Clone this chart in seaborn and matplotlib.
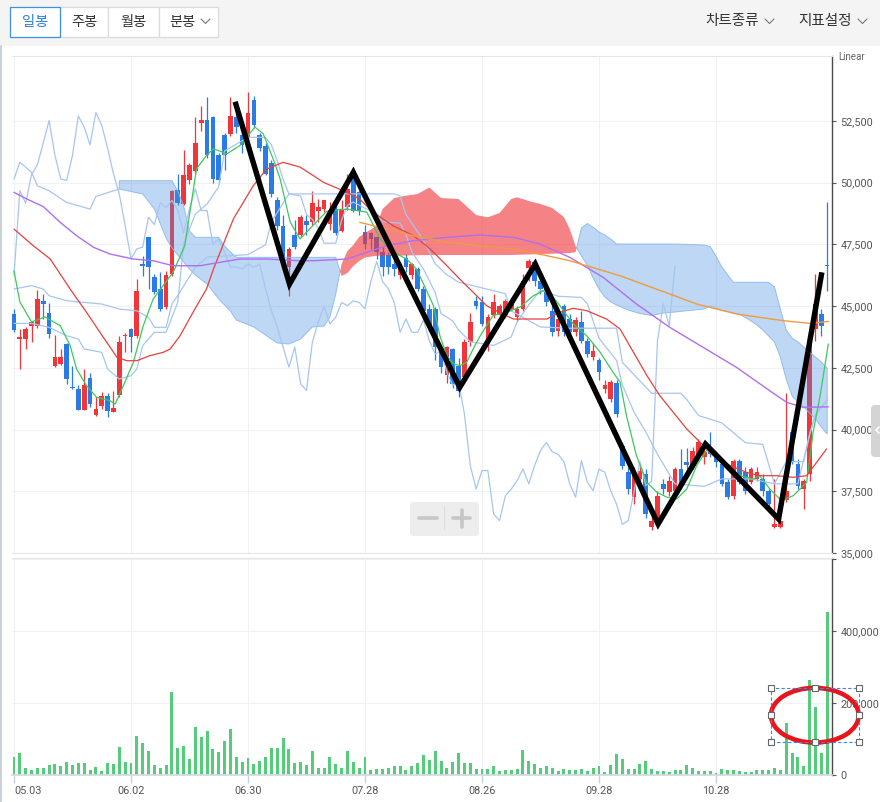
import numpy as np
import pandas as pd
import seaborn as sns
import matplotlib.pyplot as plt
from matplotlib.patches import Ellipse, Rectangle, FancyBboxPatch
from matplotlib.lines import Line2D
from matplotlib.ticker import FuncFormatter

sns.set_theme(style="white")
plt.rcParams['font.family'] = ['Roboto', 'Noto Sans CJK KR', 'DejaVu Sans']

# ---- daily candles (index 0 = 05.03) ----
opens = [44700, 43660, 43670, 44190, 44190, 45210, 44720, 42590, 42660, 43470,
         41720, 41650, 40810, 42090, 40590, 40970, 41370, 40730, 41400, 43770,
         44080, 43800, 46700, 47790, 46170, 45700, 44960, 46300, 49700, 49140,
         50090, 50490, 52410, 52520, 52650, 51100, 51940, 51960, 52650, 51940,
         51800, 53330, 51940, 51480, 50800, 49310, 48260, 46580, 47860, 47860,
         48430, 48400, 48870, 48940, 48330, 48940, 48060, 49000, 50430, 49610,
         47990, 47970, 47790, 47180, 47070, 46700, 46240, 46940, 46240, 46510,
         45700, 44890, 44890, 43340, 42190, 43270, 42590, 42120, 43540, 45210,
         45150, 43470, 44620, 44620, 44620, 44890, 44550, 44890, 46540, 46780,
         46000, 45780, 44810, 43990, 45020, 44480, 43940, 44340, 43600, 42930,
         42830, 41640, 41240, 41890, 39350, 38270, 37260, 38000, 38200, 36040,
         36240, 37800, 37460, 37520, 38400, 38700, 38540, 38940, 38900, 39300,
         38900, 38610, 37870, 37320, 38740, 38270, 37870, 38000, 38000, 37520,
         36040, 36040, 37150, 39900, 38610, 37600, 38200, 44070, 44700, 46680]
highs = [44900, 44080, 44150, 44400, 45670, 45490, 45130, 43840, 43270, 43500,
         42590, 41800, 42460, 42300, 41320, 41510, 41500, 41570, 43800, 43900,
         44100, 46100, 47040, 47800, 46300, 46370, 46440, 49700, 50350, 51340,
         50800, 52650, 53120, 53470, 52700, 51200, 52000, 53470, 53100, 52100,
         53670, 53500, 52000, 51600, 50900, 49400, 48700, 47400, 48500, 48700,
         48700, 49680, 49320, 49300, 49200, 49300, 49300, 50360, 50630, 49700,
         48300, 48000, 47800, 47400, 47200, 47000, 46800, 47100, 46750, 46600,
         45800, 45100, 44950, 43400, 43400, 43300, 42900, 43670, 44740, 45400,
         45400, 44700, 45500, 45100, 45300, 45300, 45000, 46300, 46900, 46900,
         46300, 45900, 45100, 44600, 45100, 44700, 44550, 44800, 43700, 43500,
         42900, 42000, 42000, 42000, 39500, 38500, 38500, 38500, 38400, 36500,
         37500, 38000, 38100, 38500, 39200, 39250, 39300, 39600, 39500, 39900,
         39100, 38700, 38000, 38800, 38800, 38500, 38500, 38500, 38200, 37600,
         38000, 36400, 41500, 40100, 38800, 38000, 43700, 46300, 44900, 49200]
lows = [43950, 42460, 43260, 43560, 44100, 44480, 43710, 42550, 42600, 41850,
        41650, 40800, 40800, 40900, 40550, 40830, 40500, 40700, 41300, 43140,
        43140, 43700, 46200, 45700, 45490, 44800, 44900, 46200, 49100, 49100,
        49950, 50400, 52110, 51000, 50000, 50000, 50500, 51900, 52000, 51200,
        51700, 52200, 51300, 50300, 49400, 48100, 46600, 45420, 47300, 47800,
        47860, 48300, 48400, 48800, 48100, 47900, 48000, 48900, 48800, 48700,
        47300, 47300, 46900, 46200, 46300, 46200, 46100, 46400, 46100, 45600,
        44700, 44000, 42800, 42300, 41900, 41700, 41310, 42000, 43400, 44900,
        44200, 43200, 44500, 44500, 44500, 44800, 44400, 44800, 46000, 45800,
        45500, 45000, 43800, 43800, 43800, 43800, 43800, 43500, 42950, 42800,
        42000, 41500, 41100, 40500, 38400, 37400, 37000, 37800, 36400, 35950,
        36100, 37400, 37300, 37400, 37600, 38400, 38400, 38800, 38600, 38900,
        38500, 37700, 37200, 37200, 37800, 37400, 37800, 37900, 37300, 36900,
        36000, 36000, 37050, 38600, 37600, 36780, 37900, 43600, 43800, 45620]
closes = [44050, 43760, 44080, 44350, 45290, 45090, 43870, 42950, 42950, 42050,
          41680, 40810, 41800, 41040, 40830, 41370, 40770, 40880, 43550, 43840,
          43740, 45620, 46640, 46580, 45560, 44890, 46240, 49680, 49170, 50330,
          50720, 51600, 52520, 51100, 50150, 50090, 51100, 52700, 52250, 51530,
          52840, 52320, 51400, 50360, 49540, 48260, 46910, 47320, 47390, 48600,
          48300, 49180, 49000, 49280, 48870, 47970, 48940, 49750, 48870, 48870,
          47510, 47720, 47180, 46580, 46580, 46510, 46700, 46580, 46700, 45700,
          44820, 44150, 43340, 42530, 43340, 41850, 41580, 43540, 44350, 45000,
          44280, 44550, 45150, 45020, 45210, 45150, 44890, 46000, 46810, 46000,
          45700, 45150, 43940, 44480, 43940, 43940, 44440, 43600, 43060, 43190,
          42320, 41800, 41910, 40630, 38540, 37590, 38340, 38340, 36580, 36310,
          37320, 37590, 37930, 38400, 37800, 38550, 39150, 39480, 39100, 39000,
          38700, 37800, 37260, 38740, 37870, 37520, 38400, 38270, 37520, 36980,
          36160, 36310, 37500, 38700, 37730, 37900, 43600, 45090, 44200, 46640]
volume_k = [51, 61, 20, 14, 20, 20, 27, 30, 24, 36, 27, 33, 33, 14, 23, 11, 33, 30, 79, 36,
            33, 109, 88, 67, 27, 20, 27, 231, 75, 81, 44, 133, 106, 122, 72, 64, 94, 128, 51, 36,
            47, 30, 39, 51, 75, 75, 103, 72, 33, 36, 27, 67, 20, 20, 51, 30, 20, 67, 36, 20,
            51, 14, 18, 18, 20, 24, 24, 14, 24, 33, 55, 43, 67, 39, 20, 36, 61, 33, 33, 18,
            18, 18, 24, 11, 14, 14, 18, 69, 39, 30, 20, 24, 20, 11, 18, 14, 14, 18, 11, 20,
            24, 8, 27, 57, 44, 18, 18, 30, 39, 18, 11, 11, 8, 14, 14, 27, 20, 11, 11, 11,
            6, 18, 14, 14, 11, 8, 8, 14, 14, 14, 20, 14, 145, 61, 51, 24, 265, 189, 61, 453]

date_ticks = [0, 20, 40, 60, 80, 100, 120]
date_labels = ['05.03', '06.02', '06.30', '07.28', '08.26', '09.28', '10.28']

# ---- moving averages (bar index, price) ----
ma5_x = [0, 1, 3, 5.3, 7.9, 9.6, 10.7, 12.4, 14.1, 16.4, 17.3, 18.7, 20.4, 22.1, 23.8, 25.5, 27.2,
         29.2, 31.2, 32.9, 34.1, 36.4, 38.6, 41.2, 42.6, 44.3, 45.5, 47.2, 48.9, 51.7, 53.5, 56.9,
         60.3, 62.6, 64.8, 67.1, 68.8, 70, 71.7, 72.8, 74, 75.1, 76.2, 77.4, 78.5, 79.7, 81.9, 84.2,
         86.5, 88.8, 91.1, 93.3, 95.6, 97.9, 100.2, 102.4, 103.6, 104.7, 106.4, 108.2, 109.9, 111.6,
         113.3, 115, 116.7, 118.4, 120.1, 121.8, 124.1, 126.4, 127.5, 129.2, 131.2, 133.2, 135.5,
         136.6, 137.8, 139.2]
ma5_y = [46430, 45170, 44360, 44560, 44210, 43400, 42450, 41780, 41310, 41170, 41030, 41780, 42720,
         44210, 45290, 45830, 46370, 47450, 50560, 51100, 51370, 51170, 51500, 52250, 51980, 50960,
         50150, 48410, 47720, 48410, 48850, 48930, 48810, 47720, 47190, 46910, 46500, 45900, 45020,
         43800, 42990, 42660, 42590, 42730, 43270, 43800, 44620, 44750, 44960, 45420, 45690, 45020,
         44280, 43800, 43130, 42320, 41920, 40560, 38940, 37860, 37460, 37260, 37190, 37590, 38540,
         39150, 39010, 38540, 38130, 38000, 38130, 37590, 37120, 37320, 37860, 39890, 41370, 43470]
ma20_x = [0, 3.3, 6.2, 9.6, 12.4, 14.7, 17.6, 19.3, 21, 23.2, 25.5, 26.7, 28.4, 30.6, 32.9, 34.1,
          37.5, 40.9, 43.2, 46, 48.9, 51.2, 52.9, 56.9, 59.1, 61.4, 64.8, 68.3, 70.5, 72.3, 74, 76.2,
          78.5, 80.8, 83.1, 85.4, 88.8, 91.1, 93.3, 95.6, 97.9, 101.3, 103.6, 105.9, 108.2, 110.4,
          112.7, 115, 117.3, 119.5, 121.8, 125.2, 127.5, 130.4, 133.2, 135.5, 137.2, 138.9]
ma20_y = [48120, 47446, 46907, 45692, 44748, 43938, 42926, 42788, 42788, 42991, 43128, 43262, 43801,
          44748, 45692, 46502, 48527, 49876, 50552, 50823, 50633, 50281, 50013, 49608, 49337, 48798,
          48256, 47851, 47446, 47041, 46636, 46097, 45558, 45016, 44720, 44477, 44477, 44477, 44748,
          44910, 44813, 44477, 44072, 43128, 42181, 41371, 40699, 40022, 39483, 38941, 38605, 38268,
          38131, 38131, 38066, 38131, 38673, 39212]
ma60_x = [0, 2.2, 5, 7.9, 10.7, 13.6, 16.4, 20.4, 23.8, 27.2, 31.8, 35.2, 38.6, 43.2, 48.9, 51.2,
          56.9, 60.3, 63.7, 68.3, 74, 79.7, 85.4, 89.9, 95, 100.7, 106.4, 112.1, 117.8, 123.5, 129.2,
          132.1, 134.9, 139.2]
ma60_y = [49608, 49337, 49032, 48393, 47851, 47381, 47110, 46907, 46838, 46636, 46636, 46773, 46907,
          46907, 46838, 46838, 46907, 47178, 47446, 47648, 47786, 47879, 47786, 47514, 46976, 46166,
          45085, 44140, 43330, 42520, 41570, 41100, 40900, 40920]
ma120_x = [59.1, 62.6, 68.3, 74, 79.7, 85.4, 91.1, 95, 103.6, 112.1, 116.7, 123.5, 131.5, 136.1, 139.2]
ma120_y = [48393, 48191, 47851, 47583, 47446, 47312, 47041, 46840, 46230, 45490, 45085, 44680,
           44410, 44300, 44380]

# ---- ichimoku lines ----
tenkan_x = [0, 3, 6, 9, 11, 12, 15, 16, 18, 20, 21, 22, 24, 26, 28, 29, 31, 33, 35, 36, 40, 43, 44,
            45, 46, 47, 49, 50, 51, 52, 53, 55, 56, 57, 58, 60, 62, 63, 66, 67, 68, 70, 72, 73, 75,
            76, 78, 82, 85, 86, 88, 90, 93, 97, 98, 100, 103, 104, 106, 108, 110, 113, 118, 121, 126,
            130, 132, 135, 136, 137, 139]
tenkan_y = [44300, 44300, 44141, 43801, 43667, 43262, 43128, 42452, 42047, 42181, 42452, 43396,
            43938, 43938, 45153, 47520, 48725, 49135, 49835, 51285, 51835, 51835, 51535, 50885,
            50135, 49545, 49460, 48710, 48510, 48160, 47550, 47550, 48490, 49080, 49215, 48965,
            48765, 48415, 48365, 47900, 47200, 46500, 45550, 44700, 44400, 44030, 43555, 43405,
            43750, 44350, 45050, 45650, 45400, 45350, 45100, 43700, 42800, 41800, 40700, 39900,
            39000, 37800, 37700, 38000, 38000, 37800, 38700, 38700, 39800, 40600, 41200]
kijun_x = [0, 3, 5, 6, 9, 12, 15, 18, 21, 23, 24, 26, 27, 28, 31, 33, 40, 43, 44, 47, 65, 66, 67, 70,
           72, 74, 76, 84, 85, 90, 95, 103, 104, 109, 114, 115, 117, 121, 125, 128, 130, 134, 136,
           137, 139]
kijun_y = [45690, 45830, 45690, 45420, 45220, 45150, 45085, 44880, 44810, 44540, 44140, 44140, 45100,
           45425, 46575, 46985, 47085, 47485, 48405, 49545, 49545, 49460, 48710, 47665, 46715, 46265,
           45970, 45505, 44805, 44155, 44105, 44105, 42720, 41470, 41470, 41220, 40570, 40270, 39470,
           39400, 37800, 37800, 39800, 40600, 41200]
span_a_pre_x = [0, 1, 3, 4, 6, 9, 13, 14, 17, 18]
span_a_pre_y = [50150, 50825, 50420, 49875, 49670, 49200, 48930, 49440, 49670, 49742]
cloud_x = [18, 22, 24, 26, 27, 28, 29, 30, 31, 33, 35, 36, 37, 38, 41, 45, 47, 49, 51, 53,
           54, 55, 56, 57, 58, 59, 60, 62, 63, 65, 67, 69, 71, 73, 76, 79, 81, 83, 85, 86,
           88, 90, 92, 94, 95, 96, 97, 98, 99, 100, 101, 102, 103, 105, 107, 109, 111, 113, 115, 118,
           119, 120, 121, 122, 123, 124, 126, 127, 128, 129, 130, 131, 132, 133, 134, 135, 136, 137, 138, 139]
span_a = [49742, 49540, 48932, 47758, 47352, 47069, 46786, 46502, 46259, 45895,
          45287, 45044, 44801, 44437, 44153, 43505, 43465, 43667, 44153, 44194,
          44558, 45490, 46705, 47231, 47474, 47798, 47960, 48244, 48932, 49378,
          49471, 49540, 49803, 49378, 49337, 48689, 48596, 48770, 49337, 49406,
          49256, 49135, 48973, 48608, 48122, 47433, 47028, 46664, 46137, 45692,
          45368, 45166, 45044, 44842, 44700, 44619, 44720, 44761, 44813, 44882,
          45004, 44920, 44842, 44780, 44720, 44680, 44396, 44234, 44031, 43789,
          43545, 42938, 42047, 41359, 41115, 40913, 40670, 40427, 40103, 39820]
span_b = [50078, 50078, 50078, 50078, 50078, 49661, 49053, 48041, 47786, 47786,
          47786, 47433, 47190, 46976, 46976, 46976, 46976, 46976, 46976, 46976,
          46976, 46976, 46218, 46340, 46623, 46826, 46968, 47041, 47041, 47041,
          47050, 47060, 47069, 47069, 47069, 47069, 47069, 47069, 47069, 47080,
          47090, 47110, 47120, 47140, 47150, 47190, 48162, 48345, 48191, 48000,
          47879, 47717, 47514, 47514, 47514, 47514, 47514, 47514, 47500, 47474,
          47413, 47028, 46583, 46259, 45963, 45963, 45963, 45963, 45963, 45963,
          45773, 44882, 44031, 43707, 43545, 43343, 43140, 42938, 42735, 42492]

# hand-drawn zigzag
zz_x = [37.8, 47.1, 58.0, 76.2, 89.1, 110.1, 118.2, 130.7, 138.1]
zz_y = [53278, 45894, 50418, 41711, 46704, 36174, 39414, 36377, 46368]

RED = '#f0353b'
BLUE = '#2a7be3'
LIGHT = '#a6c6f0'
GRID = '#f0f1f4'

df = pd.DataFrame({'o': opens, 'h': highs, 'l': lows, 'c': closes})
df['i'] = np.arange(len(df))
df['v'] = np.array(volume_k) * 1000
colors = np.where(df['c'] >= df['o'], RED, BLUE)

fig = plt.figure(figsize=(8.8, 8.02), dpi=100)


def fx(px):
    return px / 880


def fy(py):
    return 1 - py / 802


ax = fig.add_axes([fx(12), fy(553), fx(832) - fx(12), fy(56) - fy(553)])
axv = fig.add_axes([fx(12), fy(775), fx(832) - fx(12), fy(558) - fy(775)], sharex=ax)

# candles
ax.vlines(df['i'], df['l'], df['h'], colors=colors, lw=0.9, zorder=2)
body = np.maximum((df['c'] - df['o']).abs(), 45)
ax.bar(df['i'], body, bottom=np.minimum(df['o'], df['c']), width=0.8, color=colors, lw=0, zorder=2.1)

# cloud
cx, sa, sb = np.array(cloud_x), np.array(span_a), np.array(span_b)
ax.fill_between(cx, sa, sb, where=sb >= sa, interpolate=True,
                facecolor=(0.29, 0.565, 0.886, 0.36), edgecolor=(0.55, 0.72, 0.93, 0.9), lw=0.7, zorder=3)
ax.fill_between(cx, sa, sb, where=sa > sb, interpolate=True,
                facecolor=(0.94, 0.21, 0.23, 0.62), edgecolor='none', lw=0, zorder=3)
ax.plot(span_a_pre_x, span_a_pre_y, color=LIGHT, lw=0.9, zorder=3.5)

# ichimoku lines + lagging span
ax.plot(tenkan_x, tenkan_y, color=LIGHT, lw=0.9, zorder=3.5)
ax.plot(kijun_x, kijun_y, color=LIGHT, lw=0.9, zorder=3.5)
ax.plot(df['i'][26:] - 26, df['c'][26:], color=LIGHT, lw=0.9, zorder=3.5)

# moving averages
sns.lineplot(x=ma5_x, y=ma5_y, ax=ax, color='#3dc95c', linewidth=0.9, zorder=4)
sns.lineplot(x=ma20_x, y=ma20_y, ax=ax, color='#e8403c', linewidth=0.9, zorder=4)
sns.lineplot(x=ma60_x, y=ma60_y, ax=ax, color='#b06ef0', linewidth=1.0, zorder=4)
sns.lineplot(x=ma120_x, y=ma120_y, ax=ax, color='#f39a3c', linewidth=1.0, zorder=4)

ax.plot(zz_x, zz_y, color='black', lw=3.9, solid_joinstyle='miter', solid_capstyle='butt', zorder=6)

# volume
axv.bar(df['i'], df['v'], width=0.5, color='#55cc7a', lw=0, zorder=2)

# axes styling
ax.set_xlim(-0.34, 139.83)
ax.set_ylim(35000, 55130)
axv.set_ylim(0, 602800)
fmt = FuncFormatter(lambda v, p: f'{int(v):,}')
for a in (ax, axv):
    a.set_xlabel('')
    a.set_ylabel('')
    a.yaxis.tick_right()
    a.yaxis.set_major_formatter(fmt)
    a.set_xticks(date_ticks)
    a.grid(True, color=GRID, lw=0.8)
    a.set_axisbelow(True)
    a.spines['left'].set_visible(False)
    a.spines['right'].set_color('#4a4a4a')
    a.spines['right'].set_linewidth(1.0)
    a.spines['top'].set_color('#e6e6e6')
    a.spines['top'].set_linewidth(0.8)
    a.tick_params(axis='y', direction='out', length=3, width=0.8, color='#555555',
                  labelsize=7.8, labelcolor='#555555', pad=3, right=True, left=False)
ax.set_yticks(range(35000, 52501, 2500))
axv.set_yticks([0, 200000, 400000, 600000])
axv.set_yticklabels(['0', '200,000', '400,000', ''])
ax.spines['bottom'].set_color('#e6e6e6')
ax.spines['bottom'].set_linewidth(0.8)
axv.spines['bottom'].set_color('#d3d9e3')
ax.tick_params(axis='x', labelbottom=False, length=0)
axv.set_xticklabels(date_labels)
axv.tick_params(axis='x', direction='out', length=6, width=1, color='#c9d1de',
                labelsize=7.8, labelcolor='#555555', pad=2, bottom=True)
axv.get_xticklabels()[0].set_ha('left')

# annotation ellipse and selection box on volume
axv.add_patch(Ellipse((136.9, 166000), 15.0, 152000, fill=False, edgecolor='#e8151d',
                      lw=3.3, clip_on=False, zorder=10))
axv.add_patch(Rectangle((129.35, 90800), 15.04, 150800, fill=False, edgecolor='#2e8ef0',
                        lw=0.8, ls=(0, (3, 2)), clip_on=False, zorder=11))
hx = [129.35, 136.87, 144.39, 129.35, 144.39, 129.35, 136.87, 144.39]
hy = [241600, 241600, 241600, 166200, 166200, 90800, 90800, 90800]
axv.plot(hx, hy, ls='none', marker='s', markersize=4.2, mfc='white', mec='#666666',
         mew=0.8, clip_on=False, zorder=12)

# toolbar
fig.add_artist(Rectangle((0, fy(46)), 1, 46 / 802, transform=fig.transFigure,
                         facecolor='#f4f4f4', edgecolor='none', zorder=0))
tabs = [(60, 108, '주봉', 84), (108, 159, '월봉', 133.5), (159, 218, '분봉', 182), (9.5, 60, '일봉', 35)]
for x0, x1, lab, cxp in tabs:
    sel = lab == '일봉'
    fig.add_artist(Rectangle((fx(x0), fy(36.7)), fx(x1) - fx(x0), (36.7 - 7.3) / 802,
                             transform=fig.transFigure, facecolor='white',
                             edgecolor='#3d8fe8' if sel else '#dcdcdc', lw=0.9, zorder=1))
    fig.text(fx(cxp), fy(22), lab, ha='center', va='center', fontsize=10.3,
             color='#2d7ee0' if sel else '#333333', family=['Noto Sans CJK KR'], zorder=2)
fig.text(fx(732), fy(21.5), '차트종류', ha='center', va='center', fontsize=10.5,
         color='#333333', family=['Noto Sans CJK KR'])
fig.text(fx(825), fy(21.5), '지표설정', ha='center', va='center', fontsize=10.5,
         color='#333333', family=['Noto Sans CJK KR'])
for x0 in (201, 765, 858):
    fig.add_artist(Line2D([fx(x0), fx(x0 + 4.5), fx(x0 + 9)], [fy(19), fy(23.5), fy(19)],
                          transform=fig.transFigure, color='#777777', lw=0.8))

# widget left border, right tab, zoom control
fig.add_artist(Line2D([fx(1), fx(1)], [fy(46), 0], transform=fig.transFigure, color='#cdd2d8', lw=1.5))
fig.add_artist(FancyBboxPatch((fx(871), fy(457)), fx(890) - fx(871), 52 / 802,
                              boxstyle='round,pad=0,rounding_size=0.005', transform=fig.transFigure,
                              facecolor='#d4d4d4', edgecolor='none'))
fig.add_artist(Line2D([fx(879), fx(876), fx(879)], [fy(427), fy(430), fy(433)],
                      transform=fig.transFigure, color='white', lw=1.2))
fig.add_artist(FancyBboxPatch((fx(410), fy(536)), fx(479) - fx(410), 34 / 802,
                              boxstyle='round,pad=0,rounding_size=0.004', transform=fig.transFigure,
                              facecolor='#ededed', edgecolor='none', zorder=5))
fig.add_artist(Line2D([fx(419), fx(437)], [fy(518), fy(518)], transform=fig.transFigure,
                      color='#c6c6c6', lw=2.6, zorder=6))
fig.add_artist(Line2D([fx(453), fx(470)], [fy(518), fy(518)], transform=fig.transFigure,
                      color='#c6c6c6', lw=2.6, zorder=6))
fig.add_artist(Line2D([fx(461.5), fx(461.5)], [fy(509.5), fy(526.5)], transform=fig.transFigure,
                      color='#c6c6c6', lw=2.6, zorder=6))
fig.add_artist(Line2D([fx(444.3), fx(444.3)], [fy(507), fy(529)], transform=fig.transFigure,
                      color='#dddddd', lw=0.8, zorder=6))
fig.text(fx(838), fy(57), 'Linear', ha='left', va='center', fontsize=7, color='#666666')

fig.savefig('out.png', dpi=100)
